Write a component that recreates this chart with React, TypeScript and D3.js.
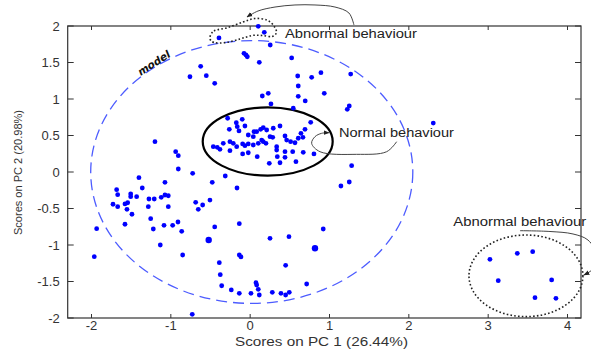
import { useEffect, useRef } from "react";
import * as d3 from "d3";

// svg size and plot box
const width = 591;
const height = 349;
const plot = { left: 67.7, right: 581, top: 26, bottom: 318 };

const xTicks = [-2, -1, 0, 1, 2, 3, 4];
const yTicks = [-2, -1.5, -1, -0.5, 0, 0.5, 1, 1.5, 2];
const xLabel = "Scores on PC 1 (26.44%)";
const yLabel = "Scores on PC 2 (20.98%)";

// scores inside the "Normal behaviour" ellipse [PC1, PC2]
const normalScores = [
  [-0.284, 0.736], [-0.175, 0.675], [-0.1, 0.722], [-0.263, 0.585], [-0.163, 0.621],
  [-0.066, 0.63], [-0.141, 0.562], [-0.024, 0.507], [0.048, 0.552], [0.132, 0.585],
  [0.165, 0.607], [0.208, 0.575], [0.291, 0.599], [0.376, 0.63], [0.039, 0.484],
  [0.25, 0.484], [0.284, 0.475], [0.439, 0.493], [-0.465, 0.347], [-0.415, 0.338],
  [-0.381, 0.311], [-0.339, 0.393], [-0.255, 0.415], [-0.213, 0.393], [-0.17, 0.347],
  [-0.095, 0.384], [-0.066, 0.36], [-0.024, 0.384], [0.039, 0.37], [0.102, 0.393],
  [0.165, 0.415], [0.199, 0.393], [0.334, 0.347], [0.46, 0.438], [0.51, 0.415],
  [0.565, 0.401], [-0.255, 0.292], [-0.024, 0.264], [-0.095, 0.247], [0.089, 0.21],
  [0.334, 0.301], [0.439, 0.278], [0.536, 0.278], [0.342, 0.21], [0.439, 0.201],
  [0.241, 0.119], [0.376, 0.127], [0.577, 0.141], [0.691, 0.585], [0.64, 0.53],
  [0.606, 0.462], [0.665, 0.475], [0.669, 0.27], [0.804, 0.247], [0.145, 0.438],
  [0.082, 0.552],
];

// other scores inside the model limit
const modelScores = [
  [-0.078, 1.626], [-0.053, 1.603], [-0.036, 1.579], [0.115, 1.503], [-0.624, 1.447],
  [-0.759, 1.305], [-0.553, 1.319], [-0.447, 1.215], [0.523, 1.563], [0.599, 1.315],
  [0.775, 1.297], [0.892, 1.36], [1.267, 1.342], [0.606, 1.178], [0.606, 1.037],
  [0.153, 1.041], [0.228, 1.078], [0.934, 1.078], [0.694, 0.973], [0.262, 0.932],
  [0.543, 0.875], [1.249, 0.904], [1.224, 0.859], [-1.2, 0.415], [-0.939, 0.278],
  [-0.906, 0.223], [-0.906, 0.041], [-0.725, -0.018], [1.279, 0.086], [0.763, 0.681],
  [-1.402, -0.078], [-1.074, -0.141], [-1.36, -0.219], [-1.683, -0.242], [-1.67, -0.311],
  [-1.506, -0.301], [-1.506, -0.338], [-1.431, -0.338], [-1.729, -0.442], [-1.67, -0.475],
  [-1.578, -0.438], [-1.544, -0.421], [-1.553, -0.511], [-1.49, -0.579], [-1.276, -0.37],
  [-1.209, -0.37], [-1.121, -0.347], [-1.074, -0.315], [-1.032, -0.325], [-1.284, -0.475],
  [-1.032, -0.475], [-1.254, -0.64], [-1.221, -0.781], [-1.086, -0.73], [-0.977, -0.73],
  [-1.578, -0.716], [-1.935, -0.777], [-1.133, -1.0], [-1.965, -1.16], [-0.314, -0.055],
  [-0.478, -0.141], [-0.166, -0.219], [-0.687, -0.415], [-0.599, -0.452], [-0.507, -0.384],
  [-0.654, -0.511], [-0.91, -0.685], [-0.863, -0.812], [-0.447, -0.753], [-0.137, -0.708],
  [-0.851, -1.137], [-0.137, -1.137], [-0.116, -1.164], [-0.389, -1.242], [-0.377, -1.407],
  [-0.359, -1.558], [-0.238, -1.616], [-0.137, -1.662], [0.01, -1.662], [0.073, -1.516],
  [0.082, -1.548], [0.102, -1.607], [0.115, -1.685], [-0.73, -1.949], [1.144, -0.192],
  [1.249, -0.137], [0.921, -0.781], [0.25, -0.908], [0.489, -0.886], [0.447, -1.278],
  [0.712, -1.534], [0.279, -1.648], [0.388, -1.662], [0.447, -1.685], [0.493, -1.648],
  [2.308, 0.67],
];

// slightly bigger dots (overlapping scores)
const largeScores = [[-0.523, -0.932], [0.817, -1.045]];

// scores flagged as abnormal
const abnormalTop = [[-0.393, 1.836], [0.102, 1.996], [0.178, 1.914], [0.253, 1.74]];
const abnormalRight = [
  [3.022, -1.196], [3.367, -1.114], [3.561, -1.092], [3.127, -1.489],
  [3.8, -1.479], [3.59, -1.722], [3.854, -1.73],
];

// limits and regions [cx, cy, rx, ry]
const modelLimit = [0.02, 0, 2.03, 1.8];
const normalRegion = [0.221, 0.418, 0.819, 0.468];
const abnormalRegion = [3.476, -1.422, 0.718, 0.559];

// dotted outline around the top abnormal scores
const abnormalBlob = [
  [-0.507, 1.836], [-0.456, 1.932], [-0.28, 1.979], [-0.091, 2.055], [0.06, 2.103],
  [0.212, 2.082], [0.3, 2.0], [0.331, 1.911], [0.275, 1.856], [0.149, 1.87],
  [0.023, 1.87], [-0.129, 1.822], [-0.305, 1.774], [-0.456, 1.774],
];

// annotation arrows
const arrowTop = [
  [1.308, 2.014], [1.245, 2.178], [1.069, 2.26], [0.817, 2.288],
  [0.565, 2.288], [0.313, 2.26], [0.098, 2.205], [-0.04, 2.123],
];
const arrowNormal = [
  [1.846, 0.415], [1.72, 0.278], [1.342, 0.242], [0.88, 0.278],
  [0.775, 0.393], [0.817, 0.484], [0.901, 0.53], [0.993, 0.538],
];
const arrowRight = [
  [3.401, -0.804], [3.779, -0.815], [4.069, -0.849], [4.258, -0.932],
  [4.371, -1.137], [4.333, -1.315], [4.207, -1.411],
];

const labels = [
  { text: "Abnormal behaviour", at: [0.439, 1.842], len: 132 },
  { text: "Normal behaviour", at: [1.119, 0.473], len: 115 },
  { text: "Abnormal behaviour", at: [2.56, -0.74], len: 133 },
];

const drawChart = (el) => {
  const svg = d3.select(el);
  svg.selectAll("*").remove();

  const x = d3.scaleLinear().domain([-2.3, 4.17]).range([plot.left, plot.right]);
  const y = d3.scaleLinear().domain([-2, 2]).range([plot.bottom, plot.top]);
  const font = "'Liberation Sans', Arial, sans-serif";

  svg.append("defs").append("marker")
    .attr("id", "head")
    .attr("viewBox", "0 0 10 10")
    .attr("refX", 9).attr("refY", 5)
    .attr("markerWidth", 6).attr("markerHeight", 6)
    .attr("markerUnits", "userSpaceOnUse")
    .attr("orient", "auto")
    .append("path")
    .attr("d", "M0,1 L10,5 L0,9 Z")
    .attr("fill", "#222");

  // frame with inward ticks on all sides
  const axisColor = "#333";
  svg.append("rect")
    .attr("x", plot.left).attr("y", plot.top)
    .attr("width", plot.right - plot.left).attr("height", plot.bottom - plot.top)
    .attr("fill", "none").attr("stroke", axisColor).attr("stroke-width", 1.2);

  const ticks = svg.append("g").attr("stroke", axisColor).attr("stroke-width", 1);
  xTicks.forEach(t => {
    ticks.append("line").attr("x1", x(t)).attr("x2", x(t)).attr("y1", plot.bottom).attr("y2", plot.bottom - 4);
    ticks.append("line").attr("x1", x(t)).attr("x2", x(t)).attr("y1", plot.top).attr("y2", plot.top + 4);
  });
  yTicks.forEach(t => {
    ticks.append("line").attr("y1", y(t)).attr("y2", y(t)).attr("x1", plot.left).attr("x2", plot.left + 6);
    ticks.append("line").attr("y1", y(t)).attr("y2", y(t)).attr("x1", plot.right).attr("x2", plot.right - 6);
  });

  svg.append("g")
    .attr("font-family", font).attr("font-size", 13).attr("fill", "#333")
    .attr("text-anchor", "middle")
    .selectAll("text").data(xTicks).join("text")
    .attr("x", d => x(d)).attr("y", 330)
    .text(d => String(d));

  svg.append("g")
    .attr("font-family", font).attr("font-size", 13).attr("fill", "#333")
    .attr("text-anchor", "end")
    .selectAll("text").data(yTicks).join("text")
    .attr("x", plot.left - 8).attr("y", d => y(d) + 4.5)
    .text(d => String(d));

  svg.append("text")
    .attr("x", 235).attr("y", 345.5)
    .attr("font-family", font).attr("font-size", 12).attr("fill", "#333")
    .attr("textLength", 173).attr("lengthAdjust", "spacingAndGlyphs")
    .text(xLabel);

  svg.append("text")
    .attr("transform", "translate(22,235) rotate(-90)")
    .attr("font-family", font).attr("font-size", 11).attr("fill", "#333")
    .attr("textLength", 125).attr("lengthAdjust", "spacingAndGlyphs")
    .text(yLabel);

  // regions
  const ellipse = (e, stroke, width, dash) => svg.append("ellipse")
    .attr("cx", x(e[0])).attr("cy", y(e[1]))
    .attr("rx", x(e[0] + e[2]) - x(e[0])).attr("ry", y(e[1]) - y(e[1] + e[3]))
    .attr("fill", "none").attr("stroke", stroke).attr("stroke-width", width)
    .attr("stroke-dasharray", dash);

  ellipse(modelLimit, "#4d5cff", 1.3, "11,6");
  ellipse(normalRegion, "#000", 2.2, null);
  ellipse(abnormalRegion, "#222", 1.6, "1.6,2.2");

  svg.append("path")
    .attr("d", d3.line().x(d => x(d[0])).y(d => y(d[1])).curve(d3.curveCardinalClosed)(abnormalBlob))
    .attr("fill", "none").attr("stroke", "#222").attr("stroke-width", 1.6)
    .attr("stroke-dasharray", "1.6,2.2");

  svg.append("text")
    .attr("transform", `translate(${x(-1.213)},${y(1.493)}) rotate(-33)`)
    .attr("text-anchor", "middle").attr("dy", "0.35em")
    .attr("font-family", "'DejaVu Sans', sans-serif").attr("font-size", 10.5)
    .attr("font-weight", "bold").attr("font-style", "italic").attr("fill", "#111")
    .text("model");

  // scores
  const dots = svg.append("g").attr("fill", "#0000ff");
  [...normalScores, ...modelScores, ...abnormalTop, ...abnormalRight].forEach(d => {
    dots.append("circle").attr("cx", x(d[0])).attr("cy", y(d[1])).attr("r", 2.4);
  });
  largeScores.forEach(d => {
    dots.append("circle").attr("cx", x(d[0])).attr("cy", y(d[1])).attr("r", 3.2);
  });

  // arrows and labels
  const curve = d3.line().x(d => x(d[0])).y(d => y(d[1])).curve(d3.curveCatmullRom);
  [arrowTop, arrowNormal, arrowRight].forEach(a => {
    svg.append("path")
      .attr("d", curve(a))
      .attr("fill", "none").attr("stroke", "#444").attr("stroke-width", 1)
      .attr("marker-end", "url(#head)");
  });

  svg.append("g")
    .attr("font-family", font).attr("font-size", 12).attr("fill", "#222")
    .selectAll("text").data(labels).join("text")
    .attr("x", d => x(d.at[0])).attr("y", d => y(d.at[1]))
    .attr("textLength", d => d.len).attr("lengthAdjust", "spacingAndGlyphs")
    .text(d => d.text);
};

export default function App() {
  const ref = useRef(null);

  useEffect(() => {
    drawChart(ref.current);
  }, []);

  return (
    <svg
      ref={ref}
      width={width}
      height={height}
      style={{ position: "absolute", left: 0, top: 0, background: "#fff" }}
    />
  );
}
